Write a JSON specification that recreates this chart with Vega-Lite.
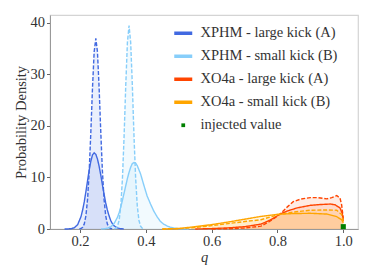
{
  "$schema": "https://vega.github.io/schema/vega-lite/v6.json",
  "width": 308,
  "height": 214,
  "autosize": {"type": "none"},
  "padding": {"left": 50, "top": 15, "right": 16, "bottom": 51},
  "background": "white",
  "config": {
    "view": {"stroke": "#d4d4d4", "strokeWidth": 1.2}
  },
  "datasets": {
    "curves": [
      {"m": "XPHM - large kick (A)", "k": "solid", "q": 0.153, "d": 0.0},
      {"m": "XPHM - large kick (A)", "k": "solid", "q": 0.163, "d": 0.01},
      {"m": "XPHM - large kick (A)", "k": "solid", "q": 0.173, "d": 0.06},
      {"m": "XPHM - large kick (A)", "k": "solid", "q": 0.183, "d": 0.25},
      {"m": "XPHM - large kick (A)", "k": "solid", "q": 0.193, "d": 0.87},
      {"m": "XPHM - large kick (A)", "k": "solid", "q": 0.203, "d": 2.4},
      {"m": "XPHM - large kick (A)", "k": "solid", "q": 0.208, "d": 3.7},
      {"m": "XPHM - large kick (A)", "k": "solid", "q": 0.213, "d": 5.3},
      {"m": "XPHM - large kick (A)", "k": "solid", "q": 0.218, "d": 7.3},
      {"m": "XPHM - large kick (A)", "k": "solid", "q": 0.223, "d": 9.4},
      {"m": "XPHM - large kick (A)", "k": "solid", "q": 0.228, "d": 11.5},
      {"m": "XPHM - large kick (A)", "k": "solid", "q": 0.233, "d": 13.2},
      {"m": "XPHM - large kick (A)", "k": "solid", "q": 0.238, "d": 14.4},
      {"m": "XPHM - large kick (A)", "k": "solid", "q": 0.243, "d": 14.8},
      {"m": "XPHM - large kick (A)", "k": "solid", "q": 0.248, "d": 14.5},
      {"m": "XPHM - large kick (A)", "k": "solid", "q": 0.253, "d": 13.6},
      {"m": "XPHM - large kick (A)", "k": "solid", "q": 0.258, "d": 12.2},
      {"m": "XPHM - large kick (A)", "k": "solid", "q": 0.263, "d": 10.5},
      {"m": "XPHM - large kick (A)", "k": "solid", "q": 0.268, "d": 8.6},
      {"m": "XPHM - large kick (A)", "k": "solid", "q": 0.273, "d": 6.8},
      {"m": "XPHM - large kick (A)", "k": "solid", "q": 0.278, "d": 5.1},
      {"m": "XPHM - large kick (A)", "k": "solid", "q": 0.283, "d": 3.7},
      {"m": "XPHM - large kick (A)", "k": "solid", "q": 0.288, "d": 2.6},
      {"m": "XPHM - large kick (A)", "k": "solid", "q": 0.293, "d": 1.7},
      {"m": "XPHM - large kick (A)", "k": "solid", "q": 0.298, "d": 1.07},
      {"m": "XPHM - large kick (A)", "k": "solid", "q": 0.303, "d": 0.65},
      {"m": "XPHM - large kick (A)", "k": "solid", "q": 0.313, "d": 0.21},
      {"m": "XPHM - large kick (A)", "k": "solid", "q": 0.323, "d": 0.06},
      {"m": "XPHM - large kick (A)", "k": "solid", "q": 0.333, "d": 0.01},

      {"m": "XPHM - large kick (A)", "k": "dashed", "q": 0.198, "d": 0.03},
      {"m": "XPHM - large kick (A)", "k": "dashed", "q": 0.203, "d": 0.1},
      {"m": "XPHM - large kick (A)", "k": "dashed", "q": 0.208, "d": 0.33},
      {"m": "XPHM - large kick (A)", "k": "dashed", "q": 0.213, "d": 0.99},
      {"m": "XPHM - large kick (A)", "k": "dashed", "q": 0.218, "d": 2.6},
      {"m": "XPHM - large kick (A)", "k": "dashed", "q": 0.223, "d": 5.8},
      {"m": "XPHM - large kick (A)", "k": "dashed", "q": 0.228, "d": 11.3},
      {"m": "XPHM - large kick (A)", "k": "dashed", "q": 0.233, "d": 19.0},
      {"m": "XPHM - large kick (A)", "k": "dashed", "q": 0.238, "d": 27.5},
      {"m": "XPHM - large kick (A)", "k": "dashed", "q": 0.243, "d": 34.4},
      {"m": "XPHM - large kick (A)", "k": "dashed", "q": 0.248, "d": 37.0},
      {"m": "XPHM - large kick (A)", "k": "dashed", "q": 0.253, "d": 34.4},
      {"m": "XPHM - large kick (A)", "k": "dashed", "q": 0.258, "d": 27.5},
      {"m": "XPHM - large kick (A)", "k": "dashed", "q": 0.263, "d": 19.0},
      {"m": "XPHM - large kick (A)", "k": "dashed", "q": 0.268, "d": 11.3},
      {"m": "XPHM - large kick (A)", "k": "dashed", "q": 0.273, "d": 5.8},
      {"m": "XPHM - large kick (A)", "k": "dashed", "q": 0.278, "d": 2.6},
      {"m": "XPHM - large kick (A)", "k": "dashed", "q": 0.283, "d": 0.99},
      {"m": "XPHM - large kick (A)", "k": "dashed", "q": 0.288, "d": 0.33},
      {"m": "XPHM - large kick (A)", "k": "dashed", "q": 0.293, "d": 0.1},
      {"m": "XPHM - large kick (A)", "k": "dashed", "q": 0.298, "d": 0.03},

      {"m": "XPHM - small kick (B)", "k": "solid", "q": 0.264, "d": 0.01},
      {"m": "XPHM - small kick (B)", "k": "solid", "q": 0.274, "d": 0.04},
      {"m": "XPHM - small kick (B)", "k": "solid", "q": 0.284, "d": 0.16},
      {"m": "XPHM - small kick (B)", "k": "solid", "q": 0.294, "d": 0.45},
      {"m": "XPHM - small kick (B)", "k": "solid", "q": 0.304, "d": 1.1},
      {"m": "XPHM - small kick (B)", "k": "solid", "q": 0.314, "d": 2.3},
      {"m": "XPHM - small kick (B)", "k": "solid", "q": 0.319, "d": 3.2},
      {"m": "XPHM - small kick (B)", "k": "solid", "q": 0.324, "d": 4.3},
      {"m": "XPHM - small kick (B)", "k": "solid", "q": 0.329, "d": 5.6},
      {"m": "XPHM - small kick (B)", "k": "solid", "q": 0.334, "d": 7.0},
      {"m": "XPHM - small kick (B)", "k": "solid", "q": 0.339, "d": 8.4},
      {"m": "XPHM - small kick (B)", "k": "solid", "q": 0.344, "d": 9.8},
      {"m": "XPHM - small kick (B)", "k": "solid", "q": 0.349, "d": 11.0},
      {"m": "XPHM - small kick (B)", "k": "solid", "q": 0.354, "d": 12.0},
      {"m": "XPHM - small kick (B)", "k": "solid", "q": 0.359, "d": 12.7},
      {"m": "XPHM - small kick (B)", "k": "solid", "q": 0.364, "d": 12.9},
      {"m": "XPHM - small kick (B)", "k": "solid", "q": 0.369, "d": 12.8},
      {"m": "XPHM - small kick (B)", "k": "solid", "q": 0.374, "d": 12.3},
      {"m": "XPHM - small kick (B)", "k": "solid", "q": 0.384, "d": 10.7},
      {"m": "XPHM - small kick (B)", "k": "solid", "q": 0.394, "d": 8.5},
      {"m": "XPHM - small kick (B)", "k": "solid", "q": 0.404, "d": 6.4},
      {"m": "XPHM - small kick (B)", "k": "solid", "q": 0.414, "d": 4.9},
      {"m": "XPHM - small kick (B)", "k": "solid", "q": 0.424, "d": 3.5},
      {"m": "XPHM - small kick (B)", "k": "solid", "q": 0.434, "d": 2.4},
      {"m": "XPHM - small kick (B)", "k": "solid", "q": 0.444, "d": 1.5},
      {"m": "XPHM - small kick (B)", "k": "solid", "q": 0.454, "d": 0.95},
      {"m": "XPHM - small kick (B)", "k": "solid", "q": 0.464, "d": 0.6},
      {"m": "XPHM - small kick (B)", "k": "solid", "q": 0.474, "d": 0.35},
      {"m": "XPHM - small kick (B)", "k": "solid", "q": 0.484, "d": 0.2},
      {"m": "XPHM - small kick (B)", "k": "solid", "q": 0.494, "d": 0.1},
      {"m": "XPHM - small kick (B)", "k": "solid", "q": 0.514, "d": 0.03},
      {"m": "XPHM - small kick (B)", "k": "solid", "q": 0.53, "d": 0.01},

      {"m": "XPHM - small kick (B)", "k": "dashed", "q": 0.304, "d": 0.04},
      {"m": "XPHM - small kick (B)", "k": "dashed", "q": 0.309, "d": 0.15},
      {"m": "XPHM - small kick (B)", "k": "dashed", "q": 0.314, "d": 0.56},
      {"m": "XPHM - small kick (B)", "k": "dashed", "q": 0.319, "d": 1.7},
      {"m": "XPHM - small kick (B)", "k": "dashed", "q": 0.324, "d": 4.5},
      {"m": "XPHM - small kick (B)", "k": "dashed", "q": 0.329, "d": 9.9},
      {"m": "XPHM - small kick (B)", "k": "dashed", "q": 0.334, "d": 18.1},
      {"m": "XPHM - small kick (B)", "k": "dashed", "q": 0.339, "d": 27.9},
      {"m": "XPHM - small kick (B)", "k": "dashed", "q": 0.344, "d": 36.2},
      {"m": "XPHM - small kick (B)", "k": "dashed", "q": 0.349, "d": 39.5},
      {"m": "XPHM - small kick (B)", "k": "dashed", "q": 0.354, "d": 36.2},
      {"m": "XPHM - small kick (B)", "k": "dashed", "q": 0.359, "d": 27.9},
      {"m": "XPHM - small kick (B)", "k": "dashed", "q": 0.364, "d": 18.1},
      {"m": "XPHM - small kick (B)", "k": "dashed", "q": 0.369, "d": 9.9},
      {"m": "XPHM - small kick (B)", "k": "dashed", "q": 0.374, "d": 4.5},
      {"m": "XPHM - small kick (B)", "k": "dashed", "q": 0.379, "d": 1.7},
      {"m": "XPHM - small kick (B)", "k": "dashed", "q": 0.384, "d": 0.56},
      {"m": "XPHM - small kick (B)", "k": "dashed", "q": 0.389, "d": 0.15},
      {"m": "XPHM - small kick (B)", "k": "dashed", "q": 0.394, "d": 0.04},

      {"m": "XO4a - large kick (A)", "k": "solid", "q": 0.55, "d": 0.0},
      {"m": "XO4a - large kick (A)", "k": "solid", "q": 0.6, "d": 0.08},
      {"m": "XO4a - large kick (A)", "k": "solid", "q": 0.65, "d": 0.22},
      {"m": "XO4a - large kick (A)", "k": "solid", "q": 0.7, "d": 0.45},
      {"m": "XO4a - large kick (A)", "k": "solid", "q": 0.75, "d": 0.95},
      {"m": "XO4a - large kick (A)", "k": "solid", "q": 0.78, "d": 1.8},
      {"m": "XO4a - large kick (A)", "k": "solid", "q": 0.808, "d": 2.9},
      {"m": "XO4a - large kick (A)", "k": "solid", "q": 0.83, "d": 3.5},
      {"m": "XO4a - large kick (A)", "k": "solid", "q": 0.86, "d": 4.1},
      {"m": "XO4a - large kick (A)", "k": "solid", "q": 0.9, "d": 4.6},
      {"m": "XO4a - large kick (A)", "k": "solid", "q": 0.93, "d": 4.75},
      {"m": "XO4a - large kick (A)", "k": "solid", "q": 0.96, "d": 4.85},
      {"m": "XO4a - large kick (A)", "k": "solid", "q": 0.975, "d": 4.7},
      {"m": "XO4a - large kick (A)", "k": "solid", "q": 0.99, "d": 4.1},
      {"m": "XO4a - large kick (A)", "k": "solid", "q": 0.997, "d": 3.0},
      {"m": "XO4a - large kick (A)", "k": "solid", "q": 1.0, "d": 1.5},

      {"m": "XO4a - large kick (A)", "k": "dashed", "q": 0.6, "d": 0.0},
      {"m": "XO4a - large kick (A)", "k": "dashed", "q": 0.65, "d": 0.05},
      {"m": "XO4a - large kick (A)", "k": "dashed", "q": 0.7, "d": 0.2},
      {"m": "XO4a - large kick (A)", "k": "dashed", "q": 0.75, "d": 0.55},
      {"m": "XO4a - large kick (A)", "k": "dashed", "q": 0.777, "d": 1.5},
      {"m": "XO4a - large kick (A)", "k": "dashed", "q": 0.808, "d": 2.9},
      {"m": "XO4a - large kick (A)", "k": "dashed", "q": 0.83, "d": 4.3},
      {"m": "XO4a - large kick (A)", "k": "dashed", "q": 0.848, "d": 5.3},
      {"m": "XO4a - large kick (A)", "k": "dashed", "q": 0.87, "d": 5.8},
      {"m": "XO4a - large kick (A)", "k": "dashed", "q": 0.9, "d": 6.1},
      {"m": "XO4a - large kick (A)", "k": "dashed", "q": 0.92, "d": 6.1},
      {"m": "XO4a - large kick (A)", "k": "dashed", "q": 0.95, "d": 5.85},
      {"m": "XO4a - large kick (A)", "k": "dashed", "q": 0.965, "d": 6.1},
      {"m": "XO4a - large kick (A)", "k": "dashed", "q": 0.98, "d": 6.5},
      {"m": "XO4a - large kick (A)", "k": "dashed", "q": 0.99, "d": 6.0},
      {"m": "XO4a - large kick (A)", "k": "dashed", "q": 0.995, "d": 4.7},
      {"m": "XO4a - large kick (A)", "k": "dashed", "q": 1.0, "d": 2.0},

      {"m": "XO4a - small kick (B)", "k": "solid", "q": 0.45, "d": 0.0},
      {"m": "XO4a - small kick (B)", "k": "solid", "q": 0.5, "d": 0.1},
      {"m": "XO4a - small kick (B)", "k": "solid", "q": 0.55, "d": 0.45},
      {"m": "XO4a - small kick (B)", "k": "solid", "q": 0.6, "d": 0.85},
      {"m": "XO4a - small kick (B)", "k": "solid", "q": 0.65, "d": 1.35},
      {"m": "XO4a - small kick (B)", "k": "solid", "q": 0.7, "d": 1.9},
      {"m": "XO4a - small kick (B)", "k": "solid", "q": 0.75, "d": 2.45},
      {"m": "XO4a - small kick (B)", "k": "solid", "q": 0.8, "d": 2.85},
      {"m": "XO4a - small kick (B)", "k": "solid", "q": 0.85, "d": 3.0},
      {"m": "XO4a - small kick (B)", "k": "solid", "q": 0.9, "d": 3.05},
      {"m": "XO4a - small kick (B)", "k": "solid", "q": 0.95, "d": 2.9},
      {"m": "XO4a - small kick (B)", "k": "solid", "q": 0.98, "d": 2.4},
      {"m": "XO4a - small kick (B)", "k": "solid", "q": 0.995, "d": 1.8},
      {"m": "XO4a - small kick (B)", "k": "solid", "q": 1.0, "d": 1.2},

      {"m": "XO4a - small kick (B)", "k": "dashed", "q": 0.45, "d": 0.0},
      {"m": "XO4a - small kick (B)", "k": "dashed", "q": 0.5, "d": 0.05},
      {"m": "XO4a - small kick (B)", "k": "dashed", "q": 0.55, "d": 0.3},
      {"m": "XO4a - small kick (B)", "k": "dashed", "q": 0.6, "d": 0.65},
      {"m": "XO4a - small kick (B)", "k": "dashed", "q": 0.65, "d": 1.05},
      {"m": "XO4a - small kick (B)", "k": "dashed", "q": 0.7, "d": 1.45},
      {"m": "XO4a - small kick (B)", "k": "dashed", "q": 0.75, "d": 1.8},
      {"m": "XO4a - small kick (B)", "k": "dashed", "q": 0.8, "d": 2.75},
      {"m": "XO4a - small kick (B)", "k": "dashed", "q": 0.85, "d": 3.3},
      {"m": "XO4a - small kick (B)", "k": "dashed", "q": 0.9, "d": 3.65},
      {"m": "XO4a - small kick (B)", "k": "dashed", "q": 0.95, "d": 3.7},
      {"m": "XO4a - small kick (B)", "k": "dashed", "q": 0.98, "d": 3.65},
      {"m": "XO4a - small kick (B)", "k": "dashed", "q": 0.995, "d": 2.8},
      {"m": "XO4a - small kick (B)", "k": "dashed", "q": 1.0, "d": 1.5}
    ],
    "injected": [
      {"m": "injected value", "q": 1.0, "d": 0.45}
    ]
  },
  "encoding": {
    "x": {
      "field": "q",
      "type": "quantitative",
      "scale": {"domain": [0.1088, 1.0447], "nice": false, "zero": false},
      "axis": {
        "values": [0.2, 0.4, 0.6, 0.8, 1.0], "format": ".1f", "title": "q",
        "grid": false,
        "labelFont": "Liberation Serif", "labelFontSize": 14.5, "labelColor": "#333333", "labelPadding": 2,
        "titleFont": "Liberation Serif", "titleFontSize": 14.5, "titleFontWeight": "normal", "titleFontStyle": "italic", "titleColor": "#333333", "titlePadding": 2,
        "domainColor": "#999999", "tickColor": "#666666", "tickSize": 3.5
      }
    },
    "y": {
      "field": "d",
      "type": "quantitative",
      "stack": null,
      "scale": {"domain": [0, 41.55], "nice": false},
      "axis": {
        "values": [0, 10, 20, 30, 40], "format": "d", "title": "Probability Density",
        "grid": false,
        "labelFont": "Liberation Serif", "labelFontSize": 14.5, "labelColor": "#333333", "labelPadding": 2,
        "titleFont": "Liberation Serif", "titleFontSize": 14.5, "titleFontWeight": "normal", "titleColor": "#333333", "titlePadding": 2,
        "domainColor": "#999999", "tickColor": "#666666", "tickSize": 3.5
      }
    },
    "color": {
      "field": "m",
      "type": "nominal",
      "scale": {
        "domain": ["XPHM - large kick (A)", "XPHM - small kick (B)", "XO4a - large kick (A)", "XO4a - small kick (B)", "injected value"],
        "range": ["#4169E1", "#87CEFA", "#FF4500", "#FFA500", "#008000"]
      },
      "legend": {
        "title": null,
        "orient": "none",
        "legendX": 126,
        "legendY": 11,
        "padding": 0,
        "labelFont": "Liberation Serif",
        "labelFontSize": 14.5,
        "labelColor": "#333333",
        "labelOffset": 10,
        "rowPadding": 7,
        "symbolSize": 324,
        "symbolType": "stroke",
        "symbolStrokeWidth": 3.5,
        "symbolOpacity": 1,
        "encode": {
          "symbols": {
            "update": {
              "shape": {"signal": "datum.value === 'injected value' ? 'square' : 'stroke'"},
              "size": {"signal": "datum.value === 'injected value' ? 14 : 324"},
              "fill": {"signal": "datum.value === 'injected value' ? '#008000' : 'transparent'"},
              "strokeWidth": {"signal": "datum.value === 'injected value' ? 0 : 3.5"},
              "opacity": {"value": 1}
            }
          }
        }
      }
    }
  },
  "layer": [
    {
      "data": {"name": "curves"},
      "mark": {"type": "area", "fillOpacity": 0.11, "strokeWidth": 0},
      "encoding": {"detail": {"field": "k", "type": "nominal"}}
    },
    {
      "data": {"name": "curves"},
      "mark": {"type": "line", "strokeWidth": 1.4},
      "encoding": {
        "strokeDash": {
          "field": "k",
          "type": "nominal",
          "scale": {"domain": ["solid", "dashed"], "range": [[1, 0], [4, 1.8]]},
          "legend": null
        }
      }
    },
    {
      "data": {"name": "injected"},
      "mark": {"type": "point", "shape": "square", "filled": true, "size": 26, "opacity": 1},
      "encoding": {}
    }
  ]
}
